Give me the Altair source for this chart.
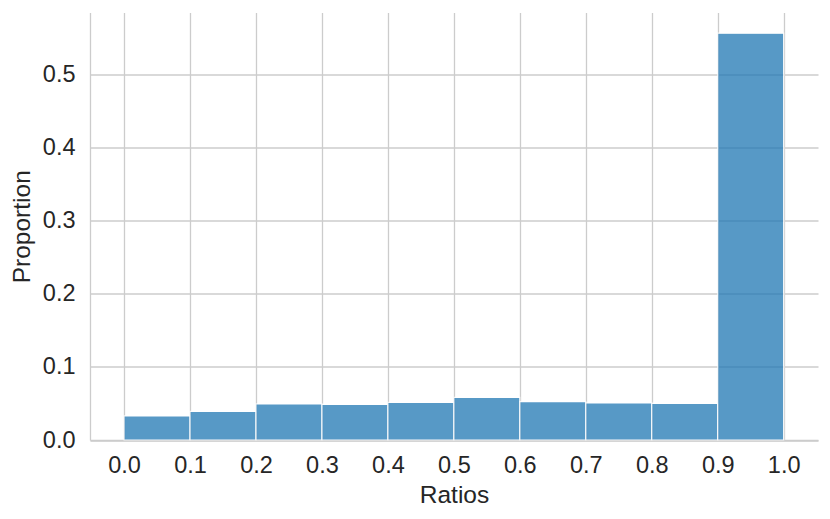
import altair as alt
import pandas as pd

bin_start = [0.0, 0.1, 0.2, 0.3, 0.4, 0.5, 0.6, 0.7, 0.8, 0.9]
bin_end = [0.1, 0.2, 0.3, 0.4, 0.5, 0.6, 0.7, 0.8, 0.9, 1.0]
proportion = [0.0329, 0.0393, 0.0493, 0.0488, 0.0516, 0.0584, 0.0525, 0.0507, 0.0502, 0.5567]
x_ticks = [0.0, 0.1, 0.2, 0.3, 0.4, 0.5, 0.6, 0.7, 0.8, 0.9, 1.0]
y_ticks = [0.0, 0.1, 0.2, 0.3, 0.4, 0.5]

df = pd.DataFrame({"start": bin_start, "end": bin_end, "prop": proportion,
                   "base": [0.0] * len(bin_start)})

FONT = "Liberation Sans"
TEXT = "#262626"
GRID = "#cccccc"

chart = (
    alt.Chart(df)
    .mark_bar(color="#1f77b4", opacity=0.75, stroke="white", strokeWidth=1.2, strokeOpacity=1)
    .encode(
        x=alt.X(
            "start:Q",
            scale=alt.Scale(domain=[-0.0516, 1.052], nice=False, zero=False),
            axis=alt.Axis(
                values=x_ticks, format=".1f", title="Ratios", grid=True,
                ticks=False, tickSize=0, labelPadding=13, titlePadding=7,
                domain=True, domainColor=GRID, domainWidth=1.3,
                labelFlush=False,
            ),
        ),
        x2="end:Q",
        y=alt.Y(
            "prop:Q",
            scale=alt.Scale(domain=[0, 0.585], nice=False),
            axis=alt.Axis(
                values=y_ticks, format=".1f", title="Proportion", grid=True,
                ticks=False, tickSize=0, labelPadding=15, titlePadding=8,
                domain=True, domainColor=GRID, domainWidth=1.3,
                labelFlush=False,
            ),
        ),
        y2="base:Q",
    )
    .properties(
        width=728,
        height=427.5,
        autosize=alt.AutoSizeParams(type="none"),
        padding={"left": 82, "top": 4.5, "right": 4, "bottom": 70},
    )
    .configure_view(stroke=None)
    .configure_axis(
        labelFont=FONT, titleFont=FONT, labelFontSize=23.5, titleFontSize=24.5,
        labelColor=TEXT, titleColor=TEXT, titleFontWeight="normal",
        gridColor=GRID, gridWidth=1.3, gridOpacity=1,
    )
)

chart.save("out.html", embed_options={"renderer": "svg", "actions": False})
